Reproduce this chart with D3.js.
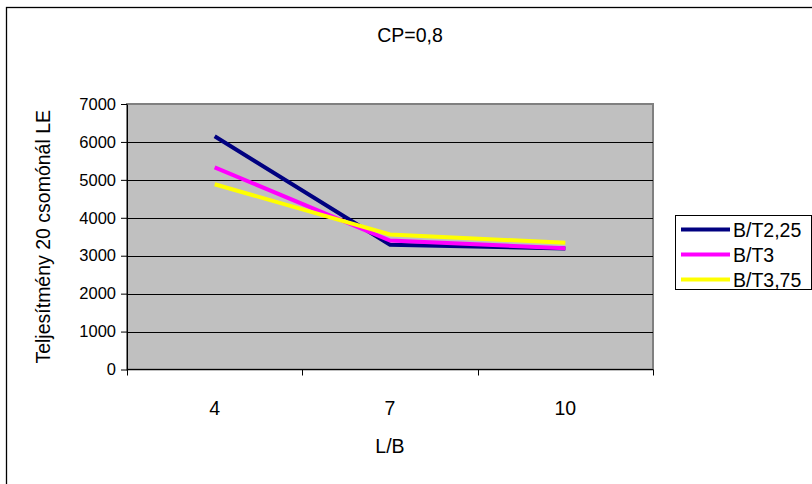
<!DOCTYPE html>
<html>
<head>
<meta charset="utf-8">
<script src="https://cdn.jsdelivr.net/npm/d3@7"></script>
<style>
  html, body { margin: 0; padding: 0; background: #fff; }
  svg { display: block; }
  text { font-family: "Liberation Sans", Arial, sans-serif; fill: #000; }
</style>
</head>
<body>
<svg id="chart" width="812" height="484"></svg>
<script>
// ---- data ----
const categories = ["4", "7", "10"];
const seriesNames = ["B/T2,25", "B/T3", "B/T3,75"];
const seriesColors = ["#000080", "#ff00ff", "#ffff00"];
const valuesBT225 = [6150, 3290, 3190];
const valuesBT3 = [5330, 3400, 3200];
const valuesBT375 = [4885, 3560, 3340];
const yTicks = [0, 1000, 2000, 3000, 4000, 5000, 6000, 7000];
const titleText = "CP=0,8";
const xTitle = "L/B";
const yTitle = "Teljesítmény 20 csomónál LE";

const series = [valuesBT225, valuesBT3, valuesBT375].map((v, i) => ({
  name: seriesNames[i], color: seriesColors[i], values: v
}));

const svg = d3.select("#chart");
const FS = 19.5;
const FS_Y = 16.5;

// outer chart border
svg.append("rect").attr("x", 6.5).attr("y", 7.5).attr("width", 820).attr("height", 500)
  .attr("fill", "#fff").attr("stroke", "#000").attr("stroke-width", 1.3);

const plot = { left: 127, right: 653, top: 104, bottom: 369.5 };

const x = d3.scaleBand().domain(categories).range([plot.left, plot.right]).padding(0);
const y = d3.scaleLinear().domain([0, 7000]).range([plot.bottom, plot.top]);

// plot background
svg.append("rect").attr("x", plot.left).attr("y", plot.top)
  .attr("width", plot.right - plot.left).attr("height", plot.bottom - plot.top)
  .attr("fill", "#c0c0c0").attr("stroke", "#808080").attr("stroke-width", 2);

// gridlines
svg.append("g").selectAll("line").data(yTicks.filter(d => d > 0 && d < 7000)).join("line")
  .attr("x1", plot.left).attr("x2", plot.right)
  .attr("y1", d => Math.round(y(d)) + 0.5).attr("y2", d => Math.round(y(d)) + 0.5)
  .attr("stroke", "#000").attr("stroke-width", 1);

// y axis
const yAxis = d3.axisLeft(y).tickValues(yTicks).tickFormat(d3.format("d")).tickSize(6).tickPadding(5).tickSizeOuter(0);
const gy = svg.append("g").attr("transform", `translate(${plot.left},0)`).call(yAxis);
gy.select(".domain").attr("stroke", "#000");
gy.selectAll(".tick line").attr("stroke", "#000");
gy.selectAll(".tick text").attr("font-size", FS_Y).attr("font-family", "Liberation Sans, Arial, sans-serif").attr("fill", "#000");

// x axis: ticks at category boundaries
const xAxisLine = svg.append("g").attr("transform", `translate(0,${plot.bottom})`);
xAxisLine.append("line").attr("x1", plot.left).attr("x2", plot.right).attr("y1", 0).attr("y2", 0)
  .attr("stroke", "#000").attr("stroke-width", 1.2);
const boundaries = categories.map(c => x(c)).concat([x(categories[categories.length - 1]) + x.bandwidth()]);
xAxisLine.selectAll("line.tk").data(boundaries).join("line").attr("class", "tk")
  .attr("x1", d => Math.round(d) + 0.5).attr("x2", d => Math.round(d) + 0.5).attr("y1", 0).attr("y2", 6)
  .attr("stroke", "#000");
xAxisLine.selectAll("text").data(categories).join("text")
  .attr("x", d => x(d) + x.bandwidth() / 2).attr("y", 45.5)
  .attr("text-anchor", "middle").attr("font-size", FS).text(d => d);

// lines
const line = d3.line().x((d, i) => x(categories[i]) + x.bandwidth() / 2).y(d => y(d));
svg.append("g").selectAll("path").data(series).join("path")
  .attr("d", d => line(d.values)).attr("fill", "none")
  .attr("stroke", d => d.color).attr("stroke-width", 4).attr("stroke-linejoin", "miter");

// titles
svg.append("text").attr("x", 410).attr("y", 42).attr("text-anchor", "middle").attr("font-size", FS).text(titleText);
svg.append("text").attr("x", (plot.left + plot.right) / 2).attr("y", 453).attr("text-anchor", "middle").attr("font-size", FS).text(xTitle);
svg.append("text").attr("transform", `translate(50,${(plot.top + plot.bottom) / 2}) rotate(-90)`)
  .attr("text-anchor", "middle").attr("font-size", FS).text(yTitle);

// legend
const lg = svg.append("g");
lg.append("rect").attr("x", 675.5).attr("y", 215.5).attr("width", 136).attr("height", 74)
  .attr("fill", "#fff").attr("stroke", "#000").attr("stroke-width", 1);
const rows = lg.selectAll("g.row").data(series).join("g").attr("class", "row")
  .attr("transform", (d, i) => `translate(0,${229.5 + i * 25})`);
rows.append("line").attr("x1", 681).attr("x2", 730).attr("y1", 0).attr("y2", 0)
  .attr("stroke", d => d.color).attr("stroke-width", 4);
rows.append("text").attr("x", 733).attr("y", 7).attr("font-size", FS).text(d => d.name);
</script>
</body>
</html>
